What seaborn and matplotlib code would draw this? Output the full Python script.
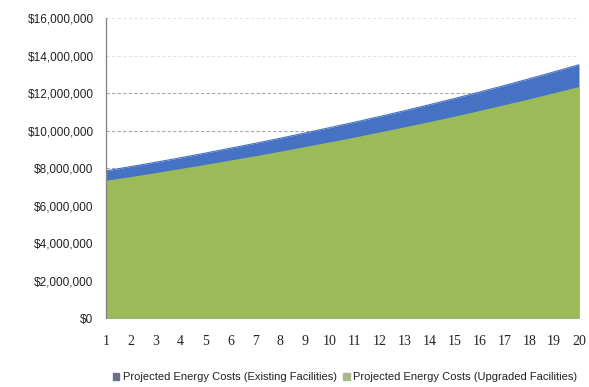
import matplotlib
matplotlib.use("Agg")
import matplotlib.pyplot as plt
import seaborn as sns
import numpy as np
from matplotlib.patches import Patch

years = list(range(1, 21))
existing = [7.85, 8.08, 8.31, 8.55, 8.80, 9.06, 9.32, 9.59, 9.87, 10.16,
            10.45, 10.75, 11.06, 11.38, 11.71, 12.05, 12.40, 12.76, 13.13, 13.51]
upgraded = [7.35, 7.55, 7.76, 7.98, 8.20, 8.43, 8.66, 8.90, 9.15, 9.40,
            9.66, 9.93, 10.20, 10.48, 10.77, 11.07, 11.38, 11.69, 12.02, 12.35]
existing = [v * 1e6 for v in existing]
upgraded = [v * 1e6 for v in upgraded]
y_ticks = [0, 2e6, 4e6, 6e6, 8e6, 10e6, 12e6, 14e6, 16e6]
series_names = ["Projected Energy Costs (Existing Facilities)",
                "Projected Energy Costs (Upgraded Facilities)"]

sns.set_style("white")
plt.rcParams['font.family'] = ['Liberation Sans', 'DejaVu Sans']

blue = "#4672C4"
green = "#9BBB59"

fig = plt.figure(figsize=(5.89, 3.87), dpi=100)
ax = fig.add_axes([0.18, 0.178, 0.803, 0.7755])

for v in y_ticks[1:]:
    col = "#e6e6e6" if v >= 14e6 else "#a8a8a8"
    ax.axhline(v, color=col, lw=0.8, ls=(0, (3, 2)), zorder=0)

ax.fill_between(years, 0, existing, color=blue, lw=0, zorder=1)
ax.fill_between(years, 0, upgraded, color=green, lw=0, zorder=2)
sns.lineplot(x=years, y=existing, ax=ax, color=blue, lw=0.8, zorder=1)

ax.set_xlim(1, 20)
ax.set_ylim(0, 16e6)
ax.set_yticks(y_ticks)
ax.set_yticklabels(["$0" if v == 0 else "${:,.0f}".format(v) for v in y_ticks],
                   fontsize=8.5, color="#222222")
ax.set_xticks(years)
ax.set_xticklabels([str(y) for y in years], fontsize=10, family="Liberation Serif",
                   color="#222222")
ax.tick_params(axis="both", length=0)
ax.tick_params(axis="y", pad=9)
ax.tick_params(axis="x", pad=12)

for s in ["top", "right", "bottom"]:
    ax.spines[s].set_visible(False)
ax.spines["left"].set_color("#888888")
ax.spines["left"].set_linewidth(1.0)

handles = [Patch(color="#6a6f8a"), Patch(color="#a8b88a")]
fig.legend(handles, series_names, loc="center", bbox_to_anchor=(0.586, 0.025),
           ncol=2, frameon=False, fontsize=8, handlelength=0.6, handleheight=0.6,
           handletextpad=0.3, columnspacing=0.6, labelcolor="#222222")

fig.savefig("out.png", dpi=100)
